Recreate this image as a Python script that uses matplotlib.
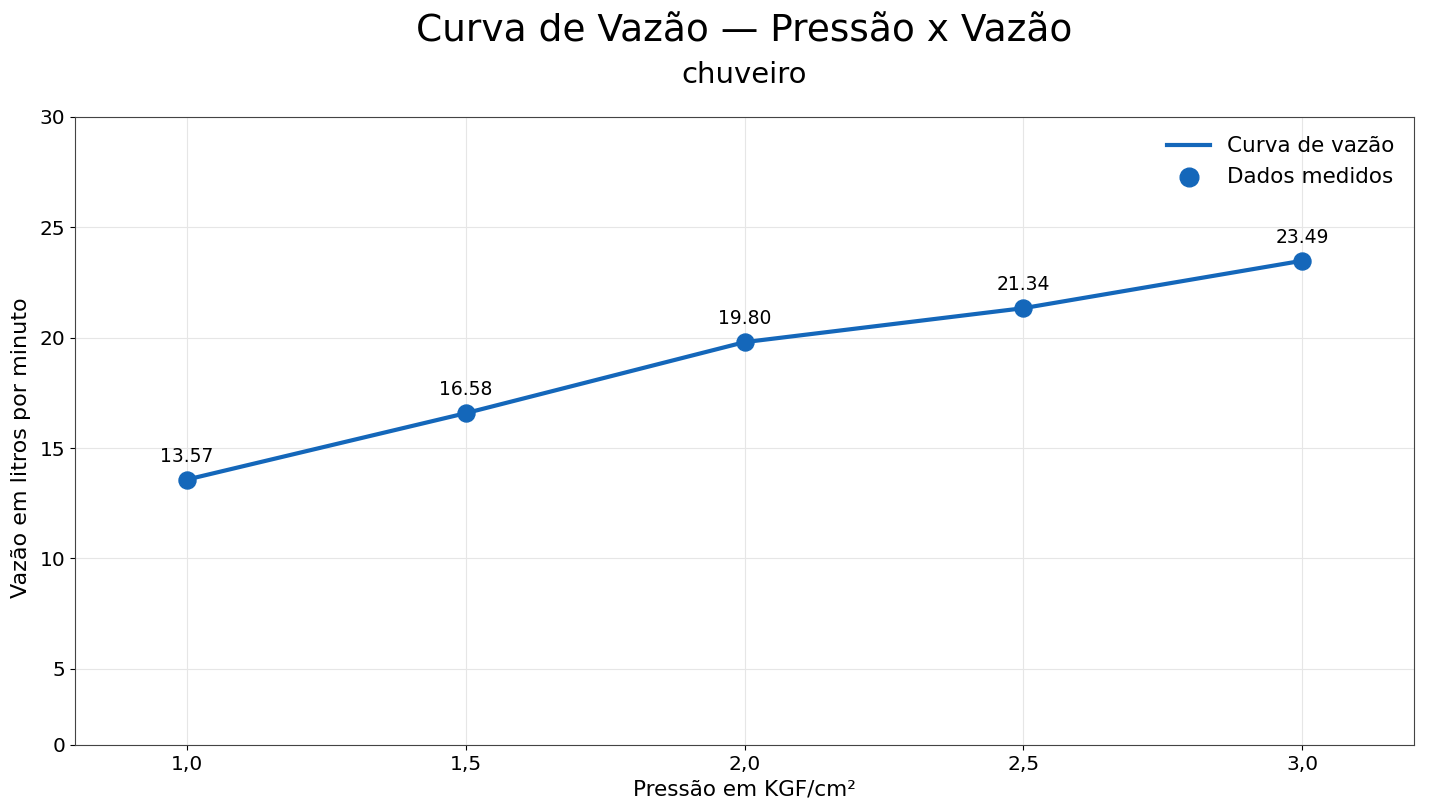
import matplotlib
matplotlib.use("Agg")
import matplotlib.pyplot as plt

pressao = [1.0, 1.5, 2.0, 2.5, 3.0]
vazao = [13.57, 16.58, 19.80, 21.34, 23.49]
xtick_labels = ["1,0", "1,5", "2,0", "2,5", "3,0"]
ytick_values = [1.55, 5, 10, 15, 20, 25, 30]
ytick_labels = ["0", "5", "10", "15", "20", "25", "30"]

color = "#1467BA"
plt.rcParams['font.family'] = ['DejaVu Sans']

fig = plt.figure(figsize=(14.45, 8.08), dpi=100)
ax = fig.add_axes([75/1445, 1 - 745/808, (1414-75)/1445, (745-117)/808])

ax.plot(pressao, vazao, color=color, lw=3, label="Curva de vazão", zorder=3)
ax.scatter(pressao, vazao, color=color, s=150, label="Dados medidos", zorder=4)
for x, y in zip(pressao, vazao):
    ax.annotate(f"{y:.2f}", (x, y), xytext=(0, 10), textcoords="offset points",
                ha="center", va="bottom", fontsize=13.5)

ax.set_xlim(0.8, 3.2)
ax.set_ylim(1.55, 30)
ax.set_xticks(pressao)
ax.set_xticklabels(xtick_labels)
ax.set_yticks(ytick_values)
ax.set_yticklabels(ytick_labels)
ax.tick_params(labelsize=14.5)
ax.grid(True, color="#e6e6e6", lw=0.8)
ax.set_axisbelow(True)
for s in ax.spines.values():
    s.set_color("#444444")

ax.set_xlabel("Pressão em KGF/cm²", fontsize=15.5, labelpad=4)
ax.set_ylabel("Vazão em litros por minuto", fontsize=16)
ax.yaxis.set_label_coords(-0.033, 0.473)

ax.legend(loc="upper right", frameon=False, fontsize=15.5, markerscale=1.1)

cx = 744.5 / 1445
fig.text(cx, 1 - 32/808, "Curva de Vazão — Pressão x Vazão", ha="center", va="center", fontsize=27)
fig.text(cx, 1 - 75/808, "chuveiro", ha="center", va="center", fontsize=21)

fig.savefig("out.png", dpi=100)
